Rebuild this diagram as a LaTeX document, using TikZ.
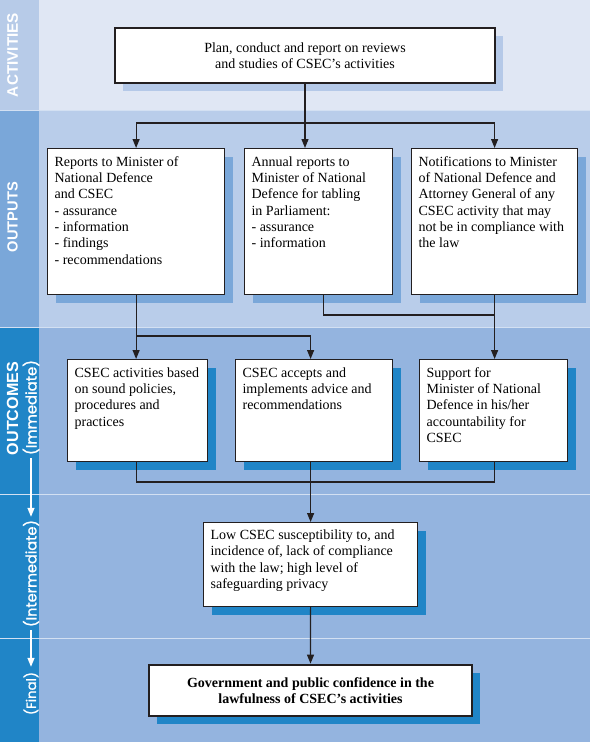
\documentclass[tikz,border=0pt]{standalone}
\usepackage{fontspec}
\setmainfont{Liberation Serif}
\newfontfamily\stripfont{Poppins}
\newfontfamily\capfont{Liberation Sans}
\usetikzlibrary{arrows.meta}
\definecolor{ink}{HTML}{231F20}
\definecolor{actmain}{HTML}{E0E7F4}
\definecolor{actstrip}{HTML}{B7CBE8}
\definecolor{topshadow}{HTML}{B5C9E8}
\definecolor{outmain}{HTML}{B9CDEA}
\definecolor{outstrip}{HTML}{7AA7D9}
\definecolor{ocmain}{HTML}{94B4DF}
\definecolor{ocstrip}{HTML}{2085C7}
\definecolor{divider}{HTML}{D3E0F2}
\newcommand\bt[4]{\parbox[t][#2pt][t]{#1pt}{\vspace*{#3pt}\raggedright\strut #4}}
\newcommand\capl[2]{\resizebox{#1pt}{!}{\capfont\bfseries #2}}
\newcommand\subl[2]{\resizebox{#1pt}{!}{\stripfont\addfontfeature{FakeBold=1.2}#2}}
\begin{document}
\begin{tikzpicture}[x=1pt,y=-1pt,
  line/.style={draw=ink,line width=1.2pt},
  arr/.style={line,-{Triangle[length=9pt,width=7pt]}},
  shad/.style={preaction={fill=#1,transform canvas={xshift=8pt,yshift=-8pt}}},
  tbox/.style={draw=ink,line width=1.2pt,fill=white,anchor=north west,inner xsep=7pt,inner ysep=0pt,font=\fontsize{14}{16.3}\selectfont},
  cbox/.style={draw=ink,line width=1.2pt,fill=white,align=center,inner sep=0pt,font=\fontsize{14}{16.3}\selectfont},
  strip/.style={text=white,rotate=90,inner sep=0pt},
  sarr/.style={draw=white,line width=1.3pt,-{Triangle[length=9pt,width=7pt]}},
  divl/.style={draw=divider,line width=0.8pt},
]
\useasboundingbox (0,0) rectangle (590,742);
% bands
\fill[actmain] (0,0) rectangle (590,110);
\fill[outmain] (0,110) rectangle (590,327);
\fill[ocmain] (0,327) rectangle (590,742);
\fill[actstrip] (0,0) rectangle (39,110);
\fill[outstrip] (0,110) rectangle (39,327);
\fill[ocstrip] (0,327) rectangle (39,742);
\draw[divl] (0,110) -- (590,110);
\draw[divl] (0,327) -- (590,327);
\draw[divl] (0,494) -- (590,494);
\draw[divl] (0,638) -- (590,638);
% strip labels
\node[strip] (lact) at (12.5,55) {\capl{84}{ACTIVITIES}};
\node[strip] (lout) at (12.5,217) {\capl{70}{OUTPUTS}};
\node[strip] (loc) at (12.5,408.5) {\capl{93}{OUTCOMES}};
\node[strip] (limm) at (31,407.5) {\subl{95}{(Immediate)}};
\node[strip] (lint) at (31,573.5) {\subl{107}{(Intermediate)}};
\node[strip] (lfin) at (31,693.5) {\subl{43}{(Final)}};
\draw[sarr,shorten <=3pt,shorten >=3pt] (limm.west) -- (lint.east);
\draw[sarr,shorten <=3pt,shorten >=5pt] (lint.west) -- (lfin.east);
% boxes
\node[cbox,shad=topshadow,minimum width=380pt,minimum height=55pt] (top) at (305,55.5)
  {Plan, conduct and report on reviews\\and studies of CSEC’s activities};
\node[tbox,shad=outstrip] (b1) at (47,148) {\bt{163}{146}{6.3}{Reports to Minister of\\National Defence\\and CSEC\\- assurance\\- information\\- findings\\- recommendations}};
\node[tbox,shad=outstrip] (b2) at (244,148) {\bt{134}{146}{6.3}{Annual reports to\\Minister of National\\Defence for tabling\\in Parliament:\\- assurance\\- information}};
\node[tbox,shad=outstrip] (b3) at (411,148) {\bt{152}{146}{6.3}{Notifications to Minister\\of National Defence and\\Attorney General of any\\CSEC activity that may\\not be in compliance with\\the law}};
\node[tbox,shad=ocstrip] (b4) at (67,359) {\bt{126}{102}{6.3}{CSEC activities based\\on sound policies,\\procedures and\\practices}};
\node[tbox,shad=ocstrip] (b5) at (235,359) {\bt{143}{102}{6.3}{CSEC accepts and\\implements advice and\\recommendations}};
\node[tbox,shad=ocstrip] (b6) at (419,359) {\bt{134}{102}{6.3}{Support for\\Minister of National\\Defence in his/her\\accountability for\\CSEC}};
\node[tbox,shad=ocstrip] (b7) at (203,522) {\bt{200}{84}{5.4}{Low CSEC susceptibility to, and\\incidence of, lack of compliance\\with the law; high level of\\safeguarding privacy}};
\node[cbox,shad=ocstrip,line width=2.8pt,minimum width=323pt,minimum height=51pt,font=\fontsize{14}{16}\selectfont\bfseries] (b8) at (310.5,690.5)
  {Government and public confidence in the\\lawfulness of CSEC’s activities};
% connectors
\coordinate (ja) at (0,123);
\coordinate (jo) at (0,336);
\coordinate (jp) at (0,315);
\coordinate (jq) at (0,482);
\draw[arr] (top.south) -- (top.south |- b2.north);
\draw[line] (b1.north |- ja) -- (b3.north |- ja);
\draw[arr] (b1.north |- ja) -- (b1.north);
\draw[arr] (b3.north |- ja) -- (b3.north);
\draw[arr] (b1.south) -- (b1.south |- b4.north);
\draw[arr] (b1.south |- jo) -| (b7.north |- b5.north);
\draw[line] ([xshift=5pt]b2.south) |- (b3.south |- jp);
\draw[arr] (b3.south) -- (b3.south |- b6.north);
\draw[line] (b1.south |- b4.south) |- (b3.south |- jq) -- (b3.south |- b6.south);
\draw[arr] (b7.north |- b5.south) -- (b7.north);
\draw[arr] (b7.south) -- (b8.north);
\end{tikzpicture}
\end{document}
